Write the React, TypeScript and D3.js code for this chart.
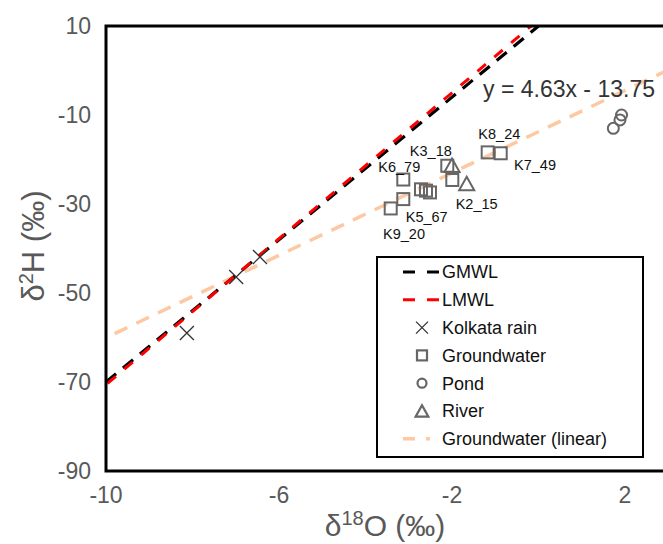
import React from 'react';
import * as d3 from 'd3';

const xTicks = [-10, -6, -2, 2];
const yTicks = [10, -10, -30, -50, -70, -90];

const rainX = [-8.13, -6.99, -6.44];
const rainY = [-59.0, -46.4, -41.9];
const gwX = [-1.175, -0.874, -2.109, -1.993, -3.126, -2.717, -2.601, -2.509, -3.126, -3.417];
const gwY = [-18.4, -18.6, -21.4, -24.6, -24.5, -26.7, -27.0, -27.4, -28.9, -31.0];
const pondX = [1.92, 1.884, 1.73];
const pondY = [-10.0, -11.1, -13.0];
const riverX = [-2.0, -1.66];
const riverY = [-21.6, -25.7];

const labelText = ['K8_24', 'K7_49', 'K3_18', 'K6_79', 'K2_15', 'K5_67', 'K9_20'];
const labelX = [-0.906, -0.081, -2.49, -3.22, -1.43, -2.585, -3.11];
const labelY = [-14.34, -21.2, -18.1, -21.6, -30.0, -33.0, -36.8];

const gmwl = { slope: 8, intercept: 10 };
const lmwl = { slope: 8.2, intercept: 11.4 };
const gwFit = { slope: 4.63, intercept: -13.75 };
const equationText = 'y = 4.63x - 13.75';

const legendLabels = ['GMWL', 'LMWL', 'Kolkata rain', 'Groundwater', 'Pond', 'River', 'Groundwater (linear)'];

const FONT = '"Liberation Sans", Arial, Helvetica, sans-serif';
const GRAY = '#666666';
const TXT = '#595959';

export default function App() {
  const W = 663, H = 544;
  const left = 106, top = 26, bottom = 471;
  const pxPerUnit = 43.25;
  const xMax = 6;
  const x = d3.scaleLinear().domain([-10, xMax]).range([left, left + (xMax + 10) * pxPerUnit]);
  const y = d3.scaleLinear().domain([-90, 10]).range([bottom, top]);
  const right = x(xMax);

  const line = d3.line<[number, number]>().x(d => x(d[0])).y(d => y(d[1]));
  const fitPath = (f: { slope: number; intercept: number }, x0: number, x1: number) =>
    line([[x0, f.slope * x0 + f.intercept], [x1, f.slope * x1 + f.intercept]]) as string;

  const sq = 12;
  const crossR = 7;
  const tri = (cx: number, cy: number, s: number) =>
    `M${cx},${cy - s * 0.62}L${cx + s * 0.58},${cy + s * 0.42}L${cx - s * 0.58},${cy + s * 0.42}Z`;

  const legX = 377, legY = 257, legW = 266, legH = 200;
  const legRow0 = 272, legStep = 27.8;
  const legTextX = 442, legMarkX = 422;

  return (
    <svg width={W} height={H} style={{ position: 'absolute', left: 0, top: 0, background: '#fff' }} fontFamily={FONT}>
      <defs>
        <clipPath id="plotClip">
          <rect x={left} y={top} width={right - left} height={bottom - top} />
        </clipPath>
      </defs>
      <rect x={0} y={0} width={W} height={H} fill="#fff" />

      <g clipPath="url(#plotClip)">
        <path d={fitPath(gwFit, -9.8, xMax)} stroke="#FDC8A2" strokeWidth={3.5} strokeDasharray="14,10" fill="none" />
        <path d={fitPath(gmwl, -10, xMax)} stroke="#000" strokeWidth={3.2} strokeDasharray="13,9" fill="none" />
        <path d={fitPath(lmwl, -10, xMax)} stroke="#ff0000" strokeWidth={3} strokeDasharray="11,11" strokeDashoffset={-2} fill="none" />
      </g>

      {/* Kolkata rain */}
      {rainX.map((v, i) => {
        const cx = x(v), cy = y(rainY[i]);
        return (
          <path key={'r' + i} d={`M${cx - crossR},${cy - crossR}L${cx + crossR},${cy + crossR}M${cx + crossR},${cy - crossR}L${cx - crossR},${cy + crossR}`} stroke="#333" strokeWidth={1.3} fill="none" />
        );
      })}
      {/* Groundwater */}
      {gwX.map((v, i) => (
        <rect key={'g' + i} x={x(v) - sq / 2} y={y(gwY[i]) - sq / 2} width={sq} height={sq} fill="none" stroke={GRAY} strokeWidth={2} />
      ))}
      {/* Pond */}
      {pondX.map((v, i) => (
        <circle key={'p' + i} cx={x(v)} cy={y(pondY[i])} r={5.5} fill="none" stroke={GRAY} strokeWidth={2} />
      ))}
      {/* River */}
      {riverX.map((v, i) => (
        <path key={'v' + i} d={tri(x(v), y(riverY[i]), 13)} fill="none" stroke={GRAY} strokeWidth={2} />
      ))}

      {labelText.map((t, i) => (
        <text key={'l' + i} x={x(labelX[i])} y={y(labelY[i])} dy="0.35em" textAnchor="middle" fontSize={14.5} fill="#111">{t}</text>
      ))}

      <text x={483} y={97} fontSize={23} fill="#333">{equationText}</text>

      {/* border */}
      <path d={`M${right},${top}H${left}V${bottom}H${right}`} stroke="#000" strokeWidth={3} fill="none" />

      {/* ticks */}
      {yTicks.map(t => (
        <text key={'yt' + t} x={91} y={y(t)} dy="0.35em" textAnchor="end" fontSize={23} fill={TXT}>{t}</text>
      ))}
      {xTicks.map(t => (
        <text key={'xt' + t} x={x(t)} y={503} textAnchor="middle" fontSize={23} fill={TXT}>{t}</text>
      ))}

      {/* axis titles */}
      <text x={385} y={536} textAnchor="middle" fontSize={30} fill={TXT}>
        δ<tspan fontSize={20} dy={-11}>18</tspan><tspan dy={11}>O (‰)</tspan>
      </text>
      <text transform={`translate(44,246) rotate(-90)`} textAnchor="middle" fontSize={31} fill={TXT}>
        δ<tspan fontSize={20} dy={-11}>2</tspan><tspan dy={11}>H (‰)</tspan>
      </text>

      {/* legend */}
      <rect x={legX} y={legY} width={legW} height={legH} fill="#fff" stroke="#000" strokeWidth={2} />
      {legendLabels.map((t, i) => {
        const cy = legRow0 + i * legStep;
        let mark: React.ReactNode = null;
        if (i === 0) mark = <path d={`M403,${cy}H440`} stroke="#000" strokeWidth={3} strokeDasharray="12,12" />;
        if (i === 1) mark = <path d={`M403,${cy}H440`} stroke="#ff0000" strokeWidth={3} strokeDasharray="12,12" />;
        if (i === 2) mark = <path d={`M${legMarkX - 6},${cy - 6}L${legMarkX + 6},${cy + 6}M${legMarkX + 6},${cy - 6}L${legMarkX - 6},${cy + 6}`} stroke="#333" strokeWidth={1.3} />;
        if (i === 3) mark = <rect x={legMarkX - 5} y={cy - 5} width={10} height={10} fill="none" stroke={GRAY} strokeWidth={2.2} />;
        if (i === 4) mark = <circle cx={legMarkX} cy={cy} r={4.5} fill="none" stroke={GRAY} strokeWidth={2.2} />;
        if (i === 5) mark = <path d={tri(legMarkX, cy + 1, 11)} fill="none" stroke={GRAY} strokeWidth={2.2} />;
        if (i === 6) mark = <path d={`M403,${cy}H430`} stroke="#FDC8A2" strokeWidth={3.5} strokeDasharray="12,11" />;
        return (
          <g key={'leg' + i}>
            {mark}
            <text x={legTextX} y={cy} dy="0.35em" fontSize={18} fill="#111">{t}</text>
          </g>
        );
      })}
    </svg>
  );
}
